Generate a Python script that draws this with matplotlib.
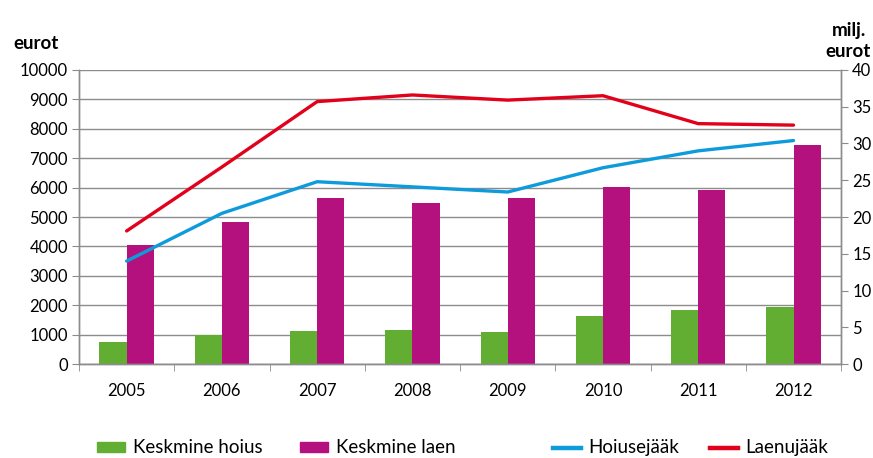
import matplotlib.pyplot as plt
import numpy as np
from matplotlib.lines import Line2D
from matplotlib.patches import Patch

plt.rcParams['font.family'] = ['Lato', 'DejaVu Sans']

# Data
years = ['2005', '2006', '2007', '2008', '2009', '2010', '2011', '2012']
avg_deposit = [740, 975, 1135, 1140, 1090, 1635, 1840, 1930]      # eurot
avg_loan = [4050, 4840, 5630, 5490, 5630, 6020, 5920, 7450]        # eurot
deposit_balance = [14.0, 20.5, 24.8, 24.1, 23.4, 26.7, 29.0, 30.4]  # milj. eurot
loan_balance = [18.1, 26.8, 35.7, 36.6, 35.9, 36.5, 32.7, 32.5]     # milj. eurot

green = '#62ae33'
magenta = '#b5117e'
blue = '#0e9bdb'
red = '#e3001b'
grid_col = '#8c8c8c'

fig = plt.figure(figsize=(8.73, 4.58), dpi=100)
ax = fig.add_axes([0.0905, 0.2052, 0.873, 0.642])
ax2 = ax.twinx()

x = np.arange(len(years))
w = 0.285
ax.bar(x - w / 2, avg_deposit, width=w, color=green, zorder=2)
ax.bar(x + w / 2, avg_loan, width=w, color=magenta, zorder=2)

ax2.plot(x, deposit_balance, color=blue, lw=2.4, solid_capstyle='round')
ax2.plot(x, loan_balance, color=red, lw=2.4, solid_capstyle='round')

ax.set_xlim(-0.5, len(years) - 0.5)
ax.set_ylim(0, 10000)
ax.set_yticks(np.arange(0, 10001, 1000))
ax2.set_ylim(0, 40)
ax2.set_yticks(np.arange(0, 41, 5))

ax.yaxis.grid(True, color=grid_col, lw=1)
ax.set_axisbelow(True)

ax.set_xticks(x)
ax.set_xticklabels(years)
ax.set_xticks(np.arange(-0.5, len(years)), minor=True)
ax.tick_params(axis='x', which='major', length=0, pad=14, labelsize=12)
ax.tick_params(axis='x', which='minor', length=5, color=grid_col)
ax.tick_params(axis='y', length=5, color=grid_col, labelsize=12, pad=3)
ax2.tick_params(axis='y', length=5, color=grid_col, labelsize=12, pad=3)

for a in (ax, ax2):
    a.spines['top'].set_visible(False)
    for s in ('left', 'right', 'bottom'):
        a.spines[s].set_color(grid_col)
        a.spines[s].set_linewidth(1)

fig.text(0.041, 0.904, 'eurot', fontsize=13.5, fontweight='bold', ha='center', va='center')
fig.text(0.972, 0.91, 'milj.\neurot', fontsize=13.5, fontweight='bold', ha='center',
         va='center', linespacing=1.3)

# legend entries placed one by one, like the spread-out legend of the original
handles = [
    Patch(color=green, label='Keskmine hoius'),
    Patch(color=magenta, label='Keskmine laen'),
    Line2D([], [], color=blue, lw=3.2, label='Hoiusejääk'),
    Line2D([], [], color=red, lw=3.2, label='Laenujääk'),
]
legend_x = [97, 300, 553, 710]
for h, lx in zip(handles, legend_x):
    fig.legend(handles=[h], loc='center left', bbox_to_anchor=(lx / 873, 0.022),
               frameon=False, fontsize=13.5, handlelength=1.5, handleheight=0.45,
               handletextpad=0.4, borderpad=0, borderaxespad=0)

fig.savefig('out.png', dpi=100)
